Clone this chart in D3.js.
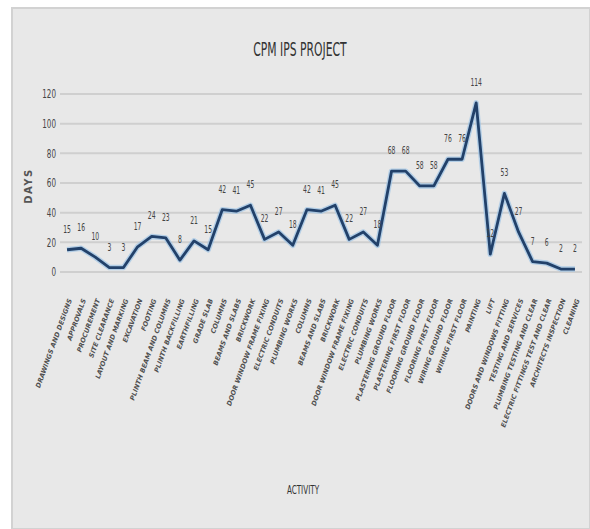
<!DOCTYPE html>
<html>
<head>
<meta charset="utf-8">
<script src="https://cdn.jsdelivr.net/npm/d3@7"></script>
<style>
  html, body { margin: 0; padding: 0; background: #ffffff; }
  svg { display: block; }
</style>
</head>
<body>
<svg id="chart" width="590" height="529"></svg>
<script>
// Activities of the project schedule, in order
const activities = [
  "DRAWINGS AND DESIGNS",
  "APPROVALS",
  "PROCUREMENT",
  "SITE CLEARANCE",
  "LAYOUT AND MARKING",
  "EXCAVATION",
  "FOOTING",
  "PLINTH BEAM AND COLUMNS",
  "PLINTH BACKFILLING",
  "EARTHFILLING",
  "GRADE SLAB",
  "COLUMNS",
  "BEAMS AND SLABS",
  "BRICKWORK",
  "DOOR WINDOW FRAME FIXING",
  "ELECTRIC CONDUITS",
  "PLUMBING WORKS",
  "COLUMNS",
  "BEAMS AND SLABS",
  "BRICKWORK",
  "DOOR WINDOW FRAME FIXING",
  "ELECTRIC CONDUITS",
  "PLUMBING WORKS",
  "PLASTERING GROUND FLOOR",
  "PLASTERING FIRST FLOOR",
  "FLOORING GROUND FLOOR",
  "FLOORING FIRST FLOOR",
  "WIRING GROUND FLOOR",
  "WIRING FIRST FLOOR",
  "PAINTING",
  "LIFT",
  "DOORS AND WINDOWS FITTING",
  "TESTING AND SERVICES",
  "PLUMBING TESTING AND CLEAR",
  "ELECTRIC FITTINGS TEST AND CLEAR",
  "ARCHITECTS INSPECTION",
  "CLEANING"
];

// Duration of each activity in days
const days = [15, 16, 10, 3, 3, 17, 24, 23, 8, 21, 15,
              42, 41, 45, 22, 27, 18,
              42, 41, 45, 22, 27, 18,
              68, 68, 58, 58, 76, 76, 114,
              12, 53, 27, 7, 6, 2, 2];

const yTicks = [0, 20, 40, 60, 80, 100, 120];

const chartTitle = "CPM IPS PROJECT";
const yTitle = "DAYS";
const xTitle = "ACTIVITY";

const svg = d3.select("#chart");
const W = 590, H = 529;
const narrow = "'Liberation Sans Narrow', 'DejaVu Sans Condensed', 'Arial Narrow', sans-serif";

// chart frame
svg.append("rect").attr("x", 0).attr("y", 0).attr("width", W).attr("height", H).attr("fill", "#ffffff");
svg.append("rect")
  .attr("x", 12).attr("y", 8).attr("width", W - 12).attr("height", H - 8)
  .attr("fill", "#e8e8e8")
  .attr("stroke", "#d2d2d2").attr("stroke-width", 2);

const plot = { left: 60, right: 582, top: 94, bottom: 272 };

const idx = activities.map((d, i) => i);
const x = d3.scaleBand().domain(idx).range([plot.left, plot.right]);
const cx = i => x(i) + x.bandwidth() / 2;
const y = d3.scaleLinear().domain([0, 120]).range([plot.bottom, plot.top]);

// horizontal gridlines
svg.append("g")
  .selectAll("line")
  .data(yTicks)
  .join("line")
  .attr("x1", plot.left).attr("x2", plot.right)
  .attr("y1", d => y(d)).attr("y2", d => y(d))
  .attr("stroke", "#cfcfcf").attr("stroke-width", 2);

// y axis labels (tall, condensed)
const yAxis = d3.axisLeft(y).tickValues(yTicks).tickSize(0).tickPadding(0);
const gy = svg.append("g").attr("transform", `translate(${plot.left - 4},0)`).call(yAxis);
gy.select(".domain").remove();
gy.selectAll("text")
  .attr("font-family", narrow).attr("font-size", 10).attr("fill", "#444")
  .attr("x", 0)
  .attr("transform", "scale(0.8,1.2)");

// x axis with slanted activity names
const xAxis = d3.axisBottom(x).tickSize(0).tickFormat(i => activities[i]);
const gx = svg.append("g").attr("transform", `translate(0,${plot.bottom + 22})`).call(xAxis);
gx.select(".domain").remove();
gx.selectAll("text")
  .attr("font-family", "'DejaVu Sans', sans-serif")
  .attr("font-size", 6.6)
  .attr("font-weight", "bold")
  .attr("font-style", "italic")
  .attr("fill", "#505050")
  .attr("text-anchor", "end")
  .attr("dy", "0.35em")
  .attr("transform", "translate(0,4) rotate(-70)");

// soft glow under the line
const line = d3.line().x((d, i) => cx(i)).y(d => y(d));
svg.append("path")
  .datum(days)
  .attr("d", line)
  .attr("fill", "none")
  .attr("stroke", "#9cc3e6")
  .attr("stroke-width", 5.5)
  .attr("stroke-linejoin", "round")
  .attr("opacity", 0.7);
svg.append("path")
  .datum(days)
  .attr("d", line)
  .attr("fill", "none")
  .attr("stroke", "#22416a")
  .attr("stroke-width", 2.8)
  .attr("stroke-linejoin", "round");

// value labels above each point
svg.append("g")
  .selectAll("text")
  .data(days)
  .join("text")
  .attr("transform", (d, i) => `translate(${cx(i)},${y(d) - 17}) scale(0.75,1.25)`)
  .attr("text-anchor", "middle")
  .attr("font-family", narrow)
  .attr("font-size", 9)
  .attr("fill", "#444")
  .text(d => d);

// titles
svg.append("text")
  .attr("transform", "translate(300,56) scale(0.8,1.25)")
  .attr("text-anchor", "middle")
  .attr("font-family", narrow)
  .attr("font-size", 15)
  .attr("fill", "#333")
  .text(chartTitle);

svg.append("text")
  .attr("transform", "translate(32,186) rotate(-90)")
  .attr("text-anchor", "middle")
  .attr("font-family", "'DejaVu Sans', sans-serif")
  .attr("font-size", 10)
  .attr("font-weight", "bold")
  .attr("letter-spacing", 1.5)
  .attr("fill", "#555")
  .text(yTitle);

svg.append("text")
  .attr("transform", "translate(303,494) scale(0.8,1.25)")
  .attr("text-anchor", "middle")
  .attr("font-family", narrow)
  .attr("font-size", 10)
  .attr("fill", "#333")
  .text(xTitle);
</script>
</body>
</html>
